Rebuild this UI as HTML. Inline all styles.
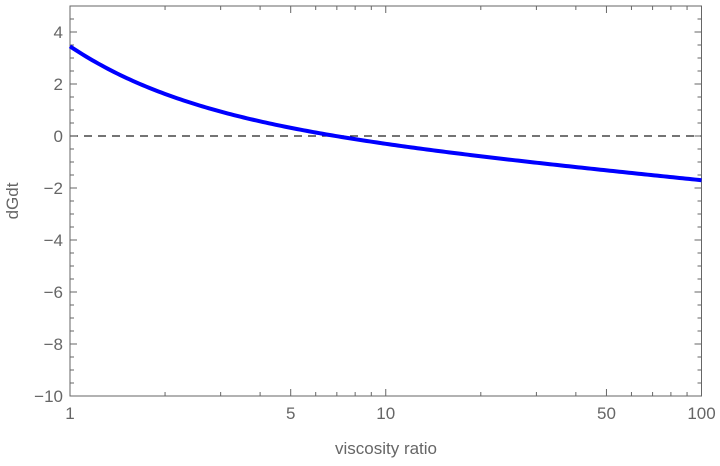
<!DOCTYPE html>
<html><head><style>
html,body{margin:0;padding:0;background:#fff;}
text{font-family:"Liberation Sans",sans-serif;fill:#666;font-size:17px;}
</style></head><body>
<svg id="s" width="720" height="461" xmlns="http://www.w3.org/2000/svg">
<rect x="70" y="6" width="631.5" height="390" fill="none" stroke="#666" stroke-width="1"/>
<line x1="70" y1="136" x2="701.5" y2="136" stroke="#222" stroke-width="1.2" stroke-dasharray="8,6"/>
<g id="ticks" stroke="#666" stroke-width="1"></g>
<g id="labels"></g>
<path id="curve" fill="none" stroke="#0000ff" stroke-width="4"/>
<text x="386" y="454" text-anchor="middle" style="font-size:17px">viscosity ratio</text>
<text transform="translate(18,201) rotate(-90)" text-anchor="middle" style="font-size:17px">dGdt</text>
</svg>
<script>
var L=70,R=701.5,T=6,B=396;
function X(v){return L+(Math.log10(v))*315.75;}
function Y(v){return 136-v*26;}
var t=document.getElementById('ticks'),lb=document.getElementById('labels'),h='',g='';
for(var v=-10;v<=5;v+=0.5){var y=Y(v),len=(v%2===0)?7:4;
h+='<line x1="'+L+'" y1="'+y+'" x2="'+(L+len)+'" y2="'+y+'"/><line x1="'+R+'" y1="'+y+'" x2="'+(R-len)+'" y2="'+y+'"/>';
if(v%2===0)g+='<text x="63" y="'+(y+6)+'" text-anchor="end">'+(v<0?'\u2212'+(-v):v)+'</text>';}
var maj={1:1,5:1,10:1,50:1,100:1};
[1,2,3,4,5,6,7,8,9,10,20,30,40,50,60,70,80,90,100].forEach(function(v){var x=X(v),len=maj[v]?7:4;
h+='<line x1="'+x+'" y1="'+B+'" x2="'+x+'" y2="'+(B-len)+'"/><line x1="'+x+'" y1="'+T+'" x2="'+x+'" y2="'+(T+len)+'"/>';
if(maj[v])g+='<text x="'+x+'" y="'+(B+23)+'" text-anchor="middle">'+v+'</text>';});
t.innerHTML=h;lb.innerHTML=g;
var A=0.661,Bc=-1.19,C=2.789,d='';
for(var i=0;i<=200;i++){var l=i/100;var f=A+Bc*l+C*Math.exp(-2.5*l);
d+=(i?'L':'M')+(L+l*315.75).toFixed(2)+','+Y(f).toFixed(2);}
document.getElementById('curve').setAttribute('d',d);
</script>
</body></html>
